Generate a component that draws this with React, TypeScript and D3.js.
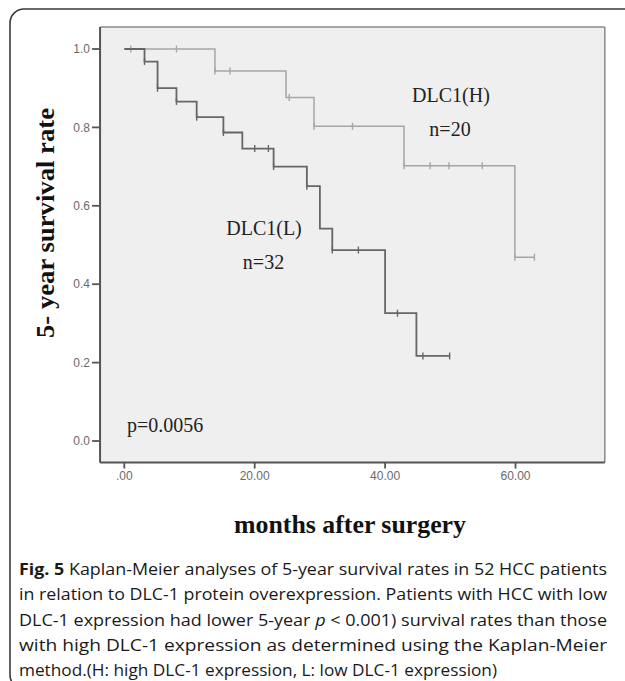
import React from "react";
import * as d3 from "d3";

// ---- data ----
const lowEventTimes = [3.1, 5.1, 8.0, 11.1, 15.2, 18.1, 22.9, 28.0, 30.0, 31.9, 40.0, 44.8];
const lowSurvival = [0.968, 0.9, 0.866, 0.826, 0.787, 0.746, 0.7, 0.65, 0.542, 0.487, 0.326, 0.217];
const lowEnd = 49.9;
const lowCensorTimes = [3.1, 5.1, 8.0, 11.1, 15.2, 20.0, 22.1, 22.9, 28.0, 31.9, 35.9, 41.9, 45.8, 49.9];

const highEventTimes = [13.9, 24.8, 29.1, 42.9, 59.9];
const highSurvival = [0.944, 0.876, 0.803, 0.702, 0.469];
const highEnd = 62.9;
const highCensorTimes = [1.0, 8.0, 13.9, 16.2, 25.3, 29.1, 35.0, 42.9, 46.9, 49.8, 54.9, 59.9, 62.9];

const xTicks = [0, 20, 40, 60];
const xTickLabels = [".00", "20.00", "40.00", "60.00"];
const yTicks = [0, 0.2, 0.4, 0.6, 0.8, 1.0];
const yTickLabels = ["0.0", "0.2", "0.4", "0.6", "0.8", "1.0"];

const captionLines = [
  "Kaplan-Meier analyses of 5-year survival rates in 52 HCC patients",
  "in relation to DLC-1 protein overexpression. Patients with HCC with low",
  "DLC-1 expression had lower 5-year ",
  "with high DLC-1 expression as determined using the Kaplan-Meier",
  "method.(H: high DLC-1 expression, L: low DLC-1 expression)",
];

const W = 625;
const H = 681;

const x = d3.scaleLinear().domain([0, 60]).range([124.3, 515.5]);
const y = d3.scaleLinear().domain([0, 1]).range([441, 49]);
const xDomainFrame = [-3.72, 73.7];
const yDomainFrame = [-0.055, 1.056];

function stepPoints(times: number[], surv: number[], end: number): [number, number][] {
  const pts: [number, number][] = [[0, 1]];
  times.forEach((t, i) => pts.push([t, surv[i]]));
  pts.push([end, surv[surv.length - 1]]);
  return pts;
}
function survAt(times: number[], surv: number[], t: number) {
  let s = 1;
  times.forEach((tt, i) => {
    if (tt <= t + 1e-9) s = surv[i];
  });
  return s;
}

const line = d3
  .line<[number, number]>()
  .x((d) => x(d[0]))
  .y((d) => y(d[1]))
  .curve(d3.curveStepAfter);

export default function App() {
  const fl = x(xDomainFrame[0]);
  const fr = x(xDomainFrame[1]);
  const ft = y(yDomainFrame[1]);
  const fb = y(yDomainFrame[0]);
  const lowColor = "#666666";
  const highColor = "#a6a6a6";
  const series = [
    { times: highEventTimes, surv: highSurvival, end: highEnd, cens: highCensorTimes, color: highColor, w: 1.5 },
    { times: lowEventTimes, surv: lowSurvival, end: lowEnd, cens: lowCensorTimes, color: lowColor, w: 1.8 },
  ];
  const capX = 19;
  const capY0 = 575;
  const capDy = 25.3;
  const capRight = 607;
  return (
    <svg width={W} height={H} style={{ position: "absolute", left: 0, top: 0 }}>
      <rect x={0} y={0} width={W} height={H} fill="#fff" />
      <rect x={10} y={9} width={700} height={680} rx={14} ry={14} fill="none" stroke="#3a3a3a" strokeWidth={1.6} />
      {/* plot area */}
      <rect x={fl} y={ft} width={fr - fl} height={fb - ft} fill="#efefef" />
      <line x1={fl} x2={fr} y1={ft} y2={ft} stroke="#8a8a8a" strokeWidth={1.5} />
      <line x1={fr} x2={fr} y1={ft} y2={fb} stroke="#8a8a8a" strokeWidth={1.5} />
      <line x1={fl} x2={fl} y1={ft} y2={fb} stroke="#555" strokeWidth={2} />
      <line x1={fl} x2={fr} y1={fb} y2={fb} stroke="#555" strokeWidth={2} />
      {yTicks.map((t, i) => (
        <g key={"y" + i}>
          <line x1={fl - 8} x2={fl} y1={y(t)} y2={y(t)} stroke="#555" strokeWidth={1.8} />
          <text x={fl - 10} y={y(t)} dy="0.35em" textAnchor="end" fontFamily="Liberation Sans, Arial" fontSize={12} fill="#6a6a6a">
            {yTickLabels[i]}
          </text>
        </g>
      ))}
      {xTicks.map((t, i) => (
        <g key={"x" + i}>
          <line x1={x(t)} x2={x(t)} y1={fb} y2={fb + 6} stroke="#555" strokeWidth={1.8} />
          <text x={x(t)} y={fb + 17.5} textAnchor="middle" fontFamily="Liberation Sans, Arial" fontSize={12} fill="#6a6a6a">
            {xTickLabels[i]}
          </text>
        </g>
      ))}
      {series.map((s, k) => (
        <g key={"s" + k}>
          <path d={line(stepPoints(s.times, s.surv, s.end)) || ""} fill="none" stroke={s.color} strokeWidth={s.w} />
          {s.cens.map((c, j) => {
            const v = survAt(s.times, s.surv, c);
            return <line key={j} x1={x(c)} x2={x(c)} y1={y(v) - 3.5} y2={y(v) + 3.5} stroke={s.color} strokeWidth={1.4} />;
          })}
        </g>
      ))}
      <g fontFamily="Liberation Serif, Times New Roman, serif" fontSize={20} fill="#222">
        <text x={451} y={95} dy="0.35em" textAnchor="middle">DLC1(H)</text>
        <text x={450} y={129} dy="0.35em" textAnchor="middle">n=20</text>
        <text x={264} y={228} dy="0.35em" textAnchor="middle">DLC1(L)</text>
        <text x={263.5} y={262} dy="0.35em" textAnchor="middle">n=32</text>
        <text x={127} y={425} dy="0.35em" textAnchor="start">p=0.0056</text>
      </g>
      <text
        transform={`translate(45,223) rotate(-90)`}
        x={-115}
        dy="0.35em"
        textLength={230}
        lengthAdjust="spacingAndGlyphs"
        fontFamily="Liberation Serif, Times New Roman, serif"
        fontWeight="bold"
        fontSize={25}
        fill="#111"
      >
        5- year survival rate
      </text>
      <text
        x={350 - 116}
        y={524}
        dy="0.35em"
        textLength={232}
        lengthAdjust="spacingAndGlyphs"
        fontFamily="Liberation Serif, Times New Roman, serif"
        fontWeight="bold"
        fontSize={25}
        fill="#111"
      >
        months after surgery
      </text>
      <g fontFamily="Open Sans, Noto Sans, sans-serif" fontSize={16.5} fill="#1a1a1a">
        <text x={capX} y={capY0} textLength={capRight - capX} lengthAdjust="spacingAndGlyphs">
          <tspan fontWeight="bold">Fig. 5</tspan> {captionLines[0]}
        </text>
        <text x={capX} y={capY0 + capDy} textLength={capRight - capX} lengthAdjust="spacingAndGlyphs">
          {captionLines[1]}
        </text>
        <text x={capX} y={capY0 + 2 * capDy} textLength={capRight - capX} lengthAdjust="spacingAndGlyphs">
          {captionLines[2]}
          <tspan fontStyle="italic">p</tspan> {"< 0.001) survival rates than those"}
        </text>
        <text x={capX} y={capY0 + 3 * capDy} textLength={capRight - capX} lengthAdjust="spacingAndGlyphs">
          {captionLines[3]}
        </text>
        <text x={capX} y={capY0 + 4 * capDy} textLength={497 - capX} lengthAdjust="spacingAndGlyphs">
          {captionLines[4]}
        </text>
      </g>
    </svg>
  );
}
